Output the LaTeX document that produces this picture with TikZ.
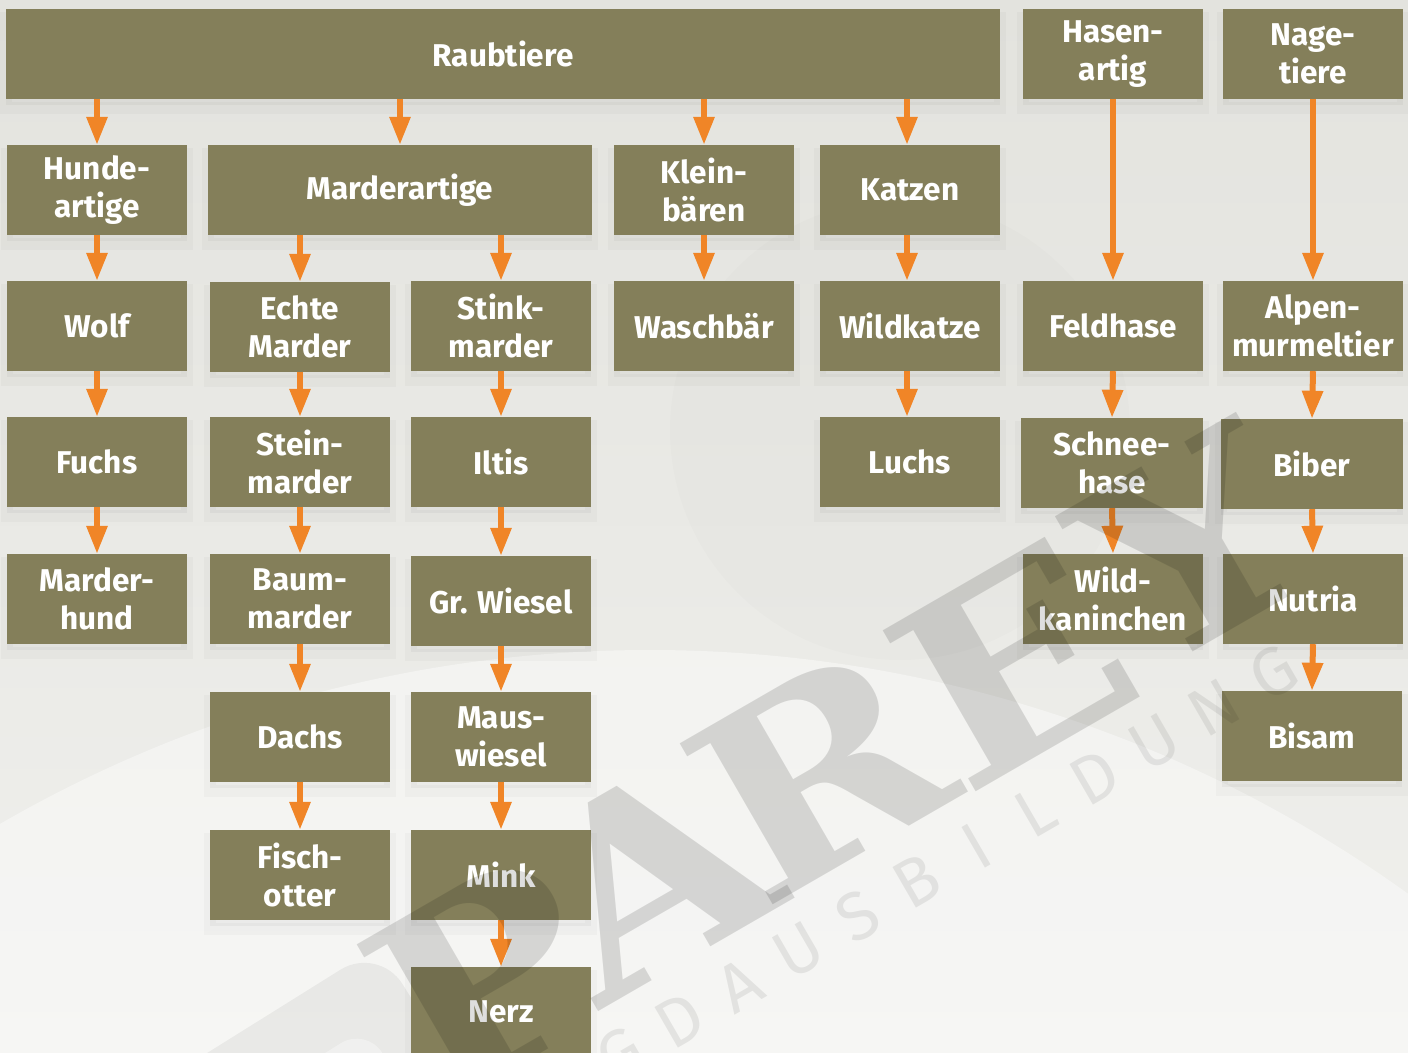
\documentclass[tikz,border=0pt]{standalone}
\usepackage{fontspec}
\setmainfont{Fira Sans}
\newfontfamily\wmserif{DejaVu Serif}
\usetikzlibrary{arrows.meta}
\definecolor{boxc}{HTML}{847F5A}
\definecolor{arrc}{HTML}{F08527}
\definecolor{bgtop}{HTML}{E3E3DE}
\definecolor{bgbot}{HTML}{F0F0ED}
\begin{document}
\begin{tikzpicture}[x=1pt,y=-1pt,
  box/.style={fill=boxc, text=white, inner sep=0pt, minimum width=180pt, minimum height=90pt,
    align=center, font=\bfseries\fontsize{31.5}{38}\selectfont,
    preaction={draw=black, line width=12pt, draw opacity=0.025, transform canvas={yshift=-9pt}},
    preaction={fill=black, fill opacity=0.035, transform canvas={yshift=-6pt}}},
  arr/.style={draw=arrc, line width=6pt, -{Triangle[width=20pt,length=28pt]}},
  wm/.style={text=black, text opacity=0.13, inner sep=0pt, rotate=30,
    font=\wmserif\bfseries\fontsize{255}{255}\selectfont},
  wmsmall/.style={text=black, text opacity=0.075, inner sep=0pt, rotate=30,
    font=\fontsize{68}{68}\selectfont}]
\useasboundingbox (0,0) rectangle (1408,1052);
\clip (0,0) rectangle (1408,1052);
% background
\fill[top color=bgtop, bottom color=bgbot] (0,0) rectangle (1408,1052);
\fill[white, opacity=0.4] (650,1950) circle (1300);
\fill[black, opacity=0.012] (900,430) circle (230);
\fill[black, opacity=0.05, rounded corners=45, rotate around={32:(280,1090)}] (120,1020) rectangle (440,1160);
\fill[white, opacity=0.35, rounded corners=30, rotate around={32:(300,1110)}] (230,1075) rectangle (400,1160);

% top row
\node[box, minimum width=994pt] (raub) at (503,54) {Raubtiere};
\node[box] (hasen) at (1113,54) {Hasen-\\artig};
\node[box] (nage) at (1313,54) {Nage-\\tiere};
% row 2
\node[box] (hunde) at (97,190) {Hunde-\\artige};
\node[box, minimum width=384pt] (marder) at (400,190) {Marderartige};
\node[box] (klein) at (704,190) {Klein-\\bären};
\node[box] (katzen) at (910,190) {Katzen};
% row 3
\node[box] (wolf) at (97,326) {Wolf};
\node[box] (echte) at (300,327) {Echte\\Marder};
\node[box] (stink) at (501,326) {Stink-\\marder};
\node[box] (wasch) at (704,326) {Waschbär};
\node[box] (wildk) at (910,326) {Wildkatze};
\node[box] (feld) at (1113,326) {Feldhase};
\node[box] (alpen) at (1313,326) {Alpen-\\murmeltier};
% row 4
\node[box] (fuchs) at (97,462) {Fuchs};
\node[box] (stein) at (300,462) {Stein-\\marder};
\node[box] (iltis) at (501,462) {Iltis};
\node[box] (luchs) at (910,462) {Luchs};
\node[box, minimum width=182pt] (schnee) at (1112,463) {Schnee-\\hase};
\node[box, minimum width=182pt] (biber) at (1312,464) {Biber};
% row 5
\node[box] (mhund) at (97,599) {Marder-\\hund};
\node[box] (baum) at (300,599) {Baum-\\marder};
\node[box] (wiesel) at (501,601) {Gr. Wiesel};
\node[box] (wildkan) at (1113,599) {Wild-\\kaninchen};
\node[box] (nutria) at (1313,599) {Nutria};
% row 6
\node[box] (dachs) at (300,737) {Dachs};
\node[box] (maus) at (501,737) {Maus-\\wiesel};
\node[box] (bisam) at (1312,736) {Bisam};
% row 7
\node[box] (fisch) at (300,875) {Fisch-\\otter};
\node[box] (mink) at (501,875) {Mink};
% row 8
\node[box] (nerz) at (501,1012) {Nerz};

% arrows
\draw[arr] (raub.south -| hunde) -- (hunde.north);
\draw[arr] (raub.south -| marder) -- (marder.north);
\draw[arr] (raub.south -| klein) -- (klein.north);
\draw[arr] ([xshift=-3pt]raub.south -| katzen) -- ([xshift=-3pt]katzen.north);
\draw[arr] (hasen.south) -- (feld.north);
\draw[arr] (nage.south) -- (alpen.north);
\draw[arr] (hunde.south) -- (wolf.north);
\draw[arr] (wolf.south) -- (fuchs.north);
\draw[arr] (fuchs.south) -- (mhund.north);
\draw[arr] (marder.south -| echte) -- (echte.north);
\draw[arr] (marder.south -| stink) -- (stink.north);
\draw[arr] (echte.south) -- (stein.north);
\draw[arr] (stein.south) -- (baum.north);
\draw[arr] (baum.south) -- (dachs.north);
\draw[arr] (dachs.south) -- (fisch.north);
\draw[arr] (stink.south) -- (iltis.north);
\draw[arr] (iltis.south) -- (wiesel.north);
\draw[arr] (wiesel.south) -- (maus.north);
\draw[arr] (maus.south) -- (mink.north);
\draw[arr] (mink.south) -- (nerz.north);
\draw[arr] (klein.south) -- (wasch.north);
\draw[arr] ([xshift=-3pt]katzen.south) -- ([xshift=-3pt]wildk.north);
\draw[arr] ([xshift=-3pt]wildk.south) -- ([xshift=-3pt]luchs.north);
\draw[arr] (feld.south) -- (schnee.north);
\draw[arr] (schnee.south) -- (wildkan.north);
\draw[arr] (alpen.south) -- (biber.north);
\draw[arr] (biber.south) -- (nutria.north);
\draw[arr] (nutria.south) -- (bisam.north);

% watermark
\node[wm] (wp) at (485,978) {\scalebox{1.12}[1]{P}};
\node[wm] (wa) at (650,875) {\scalebox{1.12}[1]{A}};
\node[wm] (wr) at (818,772) {\scalebox{1.12}[1]{R}};
\node[wm] (we) at (1012,664) {\scalebox{1.12}[1]{E}};
\node[wm] (wy) at (1192,545) {\scalebox{1.12}[1]{Y}};
\foreach \ch [count=\i from 0] in {J,A,G,D,A,U,S,B,I,L,D,U,N,G} {
  \node[wmsmall] (wl\i) at (502+59.3*\i, 1124-34.7*\i) {\ch};
}
\end{tikzpicture}
\end{document}
